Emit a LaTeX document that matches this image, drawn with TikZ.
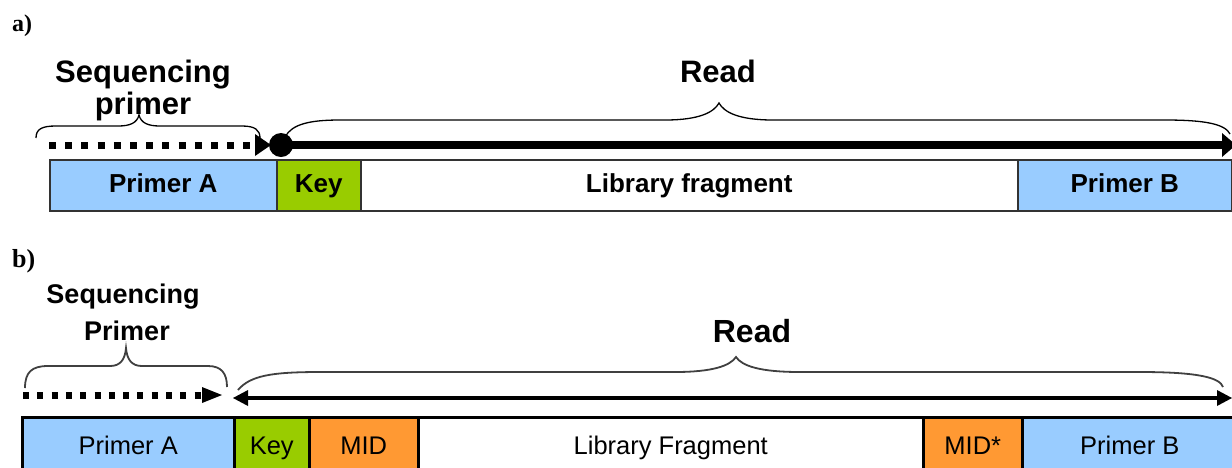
\documentclass[tikz,border=0pt]{standalone}
\usepackage{fontspec}
\setmainfont{Liberation Sans}
\newfontfamily\serifbold{Liberation Serif}
\usetikzlibrary{arrows.meta}
\definecolor{pblue}{HTML}{99CCFF}
\definecolor{kgreen}{HTML}{99CC00}
\definecolor{morange}{HTML}{FF9933}
\begin{document}
\begin{tikzpicture}[x=1pt,y=-1pt,
  panellabel/.style={anchor=base west,inner sep=0pt,font=\serifbold\bfseries},
  headtext/.style={anchor=base,inner sep=0pt,font=\bfseries},
  boxa/.style={draw=black!80,line width=1.5pt,minimum height=51pt,anchor=north west,
    inner sep=0pt,text height=18.6pt,text depth=4pt,font=\fontsize{26}{26}\selectfont\bfseries},
  boxb/.style={draw=black,line width=2.5pt,minimum height=56pt,anchor=north west,
    inner sep=0pt,text height=18pt,text depth=0pt,font=\fontsize{25.5}{26}\selectfont},
  bracea/.style={draw=black,line width=1.3pt},
  braceb/.style={draw=black!75,line width=1.8pt},
  dotline/.style={line width=7pt},
]
\useasboundingbox (0,0) rectangle (1232,467);

% ---------- panel a ----------
\node[panellabel,font=\fontsize{24}{24}\selectfont\serifbold\bfseries] (la) at (12,31) {a)};
\node[headtext,font=\fontsize{31}{31}\selectfont\bfseries] (seqa1) at (143,82) {Sequencing};
\node[headtext,font=\fontsize{31}{31}\selectfont\bfseries] (seqa2) at (143,114) {primer};
\node[headtext,font=\fontsize{31}{31}\selectfont\bfseries] (reada) at (718,82) {Read};

\draw[bracea] (36,138) .. controls (36,129) and (42,126) .. (56,126) -- (118,126)
  .. controls (130,126) and (137,123) .. (139,115)
  .. controls (141,123) and (148,126) .. (160,126) -- (242,126)
  .. controls (255,126) and (260,130) .. (260,138);
\draw[bracea] (285,137) .. controls (292,124) and (310,120) .. (340,120) -- (665,120)
  .. controls (700,120) and (714,112) .. (719,103)
  .. controls (724,112) and (738,120) .. (773,120) -- (1165,120)
  .. controls (1205,120) and (1225,124) .. (1230,134);

\coordinate (da0) at (49,145);
\coordinate (da1) at (271,145);
\draw[dotline,dash pattern=on 7pt off 9.2pt,-{Triangle[length=16pt,width=22pt,line width=0pt]}] (da0) -- (da1);
\node[circle,fill=black,minimum size=24pt,inner sep=0pt] (dota) at (281,145) {};
\coordinate (enda) at (1236,145);
\draw[line width=8pt,-{Triangle[length=14pt,width=24pt,line width=0pt]}] (dota.center) -- (enda);

\node[boxa,fill=pblue,minimum width=227pt] (pAa) at (49,159) {Primer A};
\node[boxa,fill=kgreen,minimum width=84pt] (keya) at (276,159) {Key};
\node[boxa,fill=white,minimum width=657pt] (libA) at (360,159) {Library fragment};
\node[boxa,fill=pblue,minimum width=214pt] (pBa) at (1017,159) {Primer B};

% ---------- panel b ----------
\node[panellabel,font=\fontsize{26}{26}\selectfont\serifbold\bfseries] (lb) at (12,267) {b)};
\node[headtext,font=\fontsize{27}{27}\selectfont\bfseries] (seqb1) at (123,303) {Sequencing};
\node[headtext,font=\fontsize{27}{27}\selectfont\bfseries] (seqb2) at (127,340) {Primer};
\node[headtext,font=\fontsize{32}{32}\selectfont\bfseries] (readb) at (752,342) {Read};

\draw[braceb] (25,388) .. controls (25,372) and (32,366) .. (48,366) -- (110,366)
  .. controls (120,366) and (125,360) .. (126,348)
  .. controls (127,360) and (132,366) .. (142,366) -- (208,366)
  .. controls (222,366) and (227,374) .. (227,387);
\draw[braceb] (238,390) .. controls (250,376) and (270,372) .. (320,372) -- (675,372)
  .. controls (712,372) and (730,366) .. (736,357)
  .. controls (742,366) and (760,372) .. (800,372) -- (1140,372)
  .. controls (1200,372) and (1220,378) .. (1223,387);

\coordinate (db0) at (23,395);
\coordinate (db1) at (222,395);
\draw[dotline,dash pattern=on 6pt off 8.3pt,-{Triangle[length=20pt,width=16pt,line width=0pt]}] (db0) -- (db1);
\coordinate (rb0) at (233,398);
\coordinate (rb1) at (1232,398);
\draw[line width=3.5pt,{Triangle[length=15pt,width=16pt,line width=0pt]}-{Triangle[length=15pt,width=16pt,line width=0pt]}] (rb0) -- (rb1);

\node[boxb,fill=pblue,minimum width=212pt] (pAb) at (21,416) {Primer A};
\node[boxb,fill=kgreen,minimum width=75pt] (keyb) at (233,416) {Key};
\node[boxb,fill=morange,minimum width=109pt] (midb) at (308,416) {MID};
\node[boxb,fill=white,minimum width=505pt] (libB) at (417,416) {Library Fragment};
\node[boxb,fill=morange,minimum width=99pt] (mid2b) at (922,416) {MID*};
\node[boxb,fill=pblue,minimum width=215pt] (pBb) at (1021,416) {Primer B};
\end{tikzpicture}
\end{document}
